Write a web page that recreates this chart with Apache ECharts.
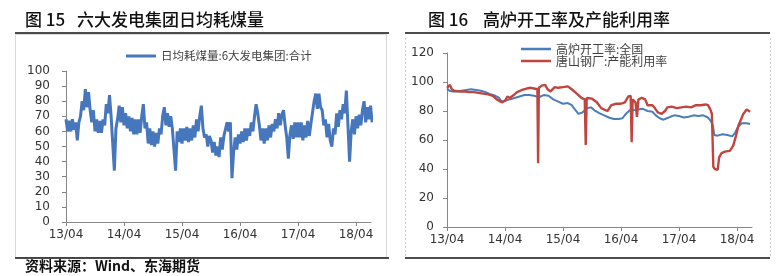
<!DOCTYPE html>
<html><head><meta charset="utf-8">
<script src="https://cdn.jsdelivr.net/npm/echarts@6/dist/echarts.min.js"></script>
<style>html,body{margin:0;padding:0;background:#fff}#c{width:782px;height:276px}</style>
</head><body><div id="c"></div>
<script>
// ---- data ----
// x positions are months since 2013-04
const TICK_MONTHS = [0, 12, 24, 36, 48, 60];
const TICK_LABELS = ['13/04', '14/04', '15/04', '16/04', '17/04', '18/04'];
const LEFT_NAME = '日均耗煤量:6大发电集团:合计';
const LEFT_STEP = 1 / 3; // sampling interval in months
const LEFT_VALUES = [
  68,60,67, 60,68,61, 66,54,66, 70,80,74, 88,76,86, 74,66,74, 60,68,59, 67,59,68, 64,78,72, 84,70,52,
  34,62,68, 77,66,76, 64,72,62, 70,60,69, 58,68,58, 68,59,70, 78,62,66, 52,62,51, 60,50,59, 52,62,58,
  70,76,64, 72,63,70, 62,48,34, 60,53,62, 52,62,54, 63,53,62, 54,64,56, 68,60,70, 77,62,56, 58,50,57,
  54,46,53, 44,50,43, 56,48,57, 58,66,60, 66,29,46, 56,48,58, 52,60,53, 62,54,62, 57,66,60, 70,78,72,
  64,54,62, 52,62,54, 64,56,65, 60,68,62, 72,64,71, 74,64,56, 42,58,64, 55,66,56, 66,56,66, 54,64,56,
  67,57,65, 66,80,85, 75,85,76, 74,64,68, 56,65,54, 50,62,58, 72,63,74, 68,78,72, 87,64,40, 60,68,58,
  70,62,71, 64,74,80, 66,76,68, 77,66
];
const BLUE_NAME = '高炉开工率:全国';
const BLUE_MONTHS = [0,0.5,1.2,2,3,4,5,6,7,8,9,10,10.8,11.3,12,13,14,15,16,17,18,19,20,21,22,23,24,25,25.8,26.5,27.2,28,29,29.8,30.5,31.5,32.5,33.5,34.5,35.5,36.3,37,37.8,38.5,39.5,40.5,41.5,42.5,43.2,44,44.8,45.5,46.2,47,48,49,50,51,52,53,54,54.6,55,55.3,56,57,58,59,59.6,60.2,61,62,62.7];
const BLUE_VALUES = [95.5,94,93.5,93.5,94,94.5,95,94.5,94,93,91.5,90.5,89,86.5,87,88,89,90,91,91,90.5,89.5,91,90.5,88,86.5,85,85.5,84,81,78,79,82,82.5,80.5,78.5,77,75.5,74.5,74.5,75,78,80.5,80.5,81,81.5,80,79.5,77,75,74,75,76,77,76.5,75.5,76,77,76.5,77,75.5,73,70,63.5,63,64,63.5,62.5,65,69,71.5,71.5,71];
const RED_NAME = '唐山钢厂:产能利用率';
const RED_MONTHS = [0,0.3,0.6,1,1.5,2.5,3.5,4.5,5.5,6.5,7.5,8.5,9.5,10.3,11.3,12,12.5,13,13.8,14.5,15.5,16.5,17.3,18,18.7,18.85,19,19.6,20.3,20.8,21.4,22.3,23,24,25,25.8,26.5,27.2,27.8,28.5,28.7,28.9,29.3,30,31,31.9,32.5,33.2,34,35,36,36.8,37.5,38,38.2,38.4,39,39.3,39.6,40.3,41,41.5,42.5,43,43.6,44.4,45.1,45.6,46.5,47.5,48.5,49.5,50.5,51.5,52.5,53.5,54,54.5,54.8,55.1,55.4,56,56.3,56.8,57.5,58.5,58.9,59.2,59.8,60.3,60.8,61.3,62,62.4,62.7];
const RED_VALUES = [96,96.5,98,95,94,93.5,93.5,93,93,92.5,92,91.5,90.5,88,86,87,90,89,91,93,94.5,95.5,96,95.5,95,44,96,97.5,98,95,93.5,96.5,96,96.5,97,95,93,91,89,88,56.6,89,90,88.5,86,82,81,80,84,85,85,86,90,90.5,58.5,88,86,76,88,89,88,84,84,82,79,78,80,82.5,83,82,82.5,83,82.5,84,84,84.5,84,81,78,41.5,40,39.5,48,51,52,52.5,53,56,63,70,74,78,81,80.5,79.5];

// ---- build ----
const zip = (xs, ys) => xs.map((x, i) => [x, ys[i]]);
const leftData = LEFT_VALUES.map((v, i) => [i * LEFT_STEP, v]);
const fmt = v => { const i = TICK_MONTHS.indexOf(v); return i >= 0 ? TICK_LABELS[i] : ''; };
const AX = '#868686', TXT = '#333333', FONT = 'DejaVu Sans';
function xAx(g) {
  return { type: 'value', gridIndex: g, min: 0, max: 63.1,
    axisLine: { show: true, lineStyle: { color: AX, width: 1 } },
    axisTick: { show: true, customValues: TICK_MONTHS, length: 4, lineStyle: { color: AX } },
    axisLabel: { customValues: TICK_MONTHS, formatter: fmt, fontFamily: FONT, fontSize: 12, color: TXT, margin: 7 },
    splitLine: { show: false } };
}
function yAx(g, max, interval, margin) {
  return { type: 'value', gridIndex: g, min: 0, max: max, interval: interval,
    axisLine: { show: true, lineStyle: { color: AX, width: 1 } },
    axisTick: { show: true, length: 4, lineStyle: { color: AX } },
    axisLabel: { fontFamily: FONT, fontSize: 12, color: TXT, margin: margin },
    splitLine: { show: false } };
}
const CJK = 'Noto Sans CJK SC';
const chart = echarts.init(document.getElementById('c'), null, { renderer: 'canvas' });
chart.setOption({
  animation: false,
  backgroundColor: '#fff',
  grid: [
    { left: 66, right: 411, top: 71, bottom: 54 },
    { left: 447, right: 30, top: 53, bottom: 49 }
  ],
  xAxis: [xAx(0), xAx(1)],
  yAxis: [yAx(0, 100, 10, 16), yAx(1, 120, 20, 13)],
  legend: [
    { data: [LEFT_NAME], left: 121, top: 44, icon: 'rect', itemWidth: 30, itemHeight: 3, itemGap: 0,
      textStyle: { fontFamily: CJK, fontSize: 11.5, color: '#404040', lineHeight: 14 } },
    { data: [BLUE_NAME, RED_NAME], orient: 'vertical', left: 516, top: 38, icon: 'rect', itemWidth: 30, itemHeight: 2.5, itemGap: 0,
      textStyle: { fontFamily: CJK, fontSize: 12, color: '#404040', lineHeight: 12 } }
  ],
  series: [
    { name: LEFT_NAME, type: 'line', xAxisIndex: 0, yAxisIndex: 0, data: leftData, symbol: 'none',
      lineStyle: { color: '#4677BD', width: 3 }, itemStyle: { color: '#4677BD' } },
    { name: BLUE_NAME, type: 'line', xAxisIndex: 1, yAxisIndex: 1, data: zip(BLUE_MONTHS, BLUE_VALUES), symbol: 'none',
      lineStyle: { color: '#4A7EBB', width: 2 }, itemStyle: { color: '#4A7EBB' } },
    { name: RED_NAME, type: 'line', xAxisIndex: 1, yAxisIndex: 1, data: zip(RED_MONTHS, RED_VALUES), symbol: 'none',
      lineStyle: { color: '#C0453F', width: 2.4 }, itemStyle: { color: '#C0453F' } }
  ],
  graphic: [
    // frames
    { type: 'rect', shape: { x: 15.5, y: 34.5, width: 371, height: 223 }, style: { fill: 'none', stroke: '#d9d9d9', lineWidth: 1 }, silent: true },
    { type: 'line', shape: { x1: 405.5, y1: 38, x2: 405.5, y2: 257 }, style: { stroke: '#cfcfcf', lineWidth: 1, lineDash: [2, 2] }, silent: true },
    { type: 'line', shape: { x1: 770.5, y1: 38, x2: 770.5, y2: 257 }, style: { stroke: '#cfcfcf', lineWidth: 1, lineDash: [2, 2] }, silent: true },
    // rules
    { type: 'line', shape: { x1: 15, y1: 33, x2: 389, y2: 33 }, style: { stroke: '#111', lineWidth: 1.5 }, silent: true },
    { type: 'line', shape: { x1: 15, y1: 258, x2: 389, y2: 258 }, style: { stroke: '#111', lineWidth: 1.5 }, silent: true },
    { type: 'line', shape: { x1: 405, y1: 33, x2: 770, y2: 33 }, style: { stroke: '#111', lineWidth: 1.5 }, silent: true },
    { type: 'line', shape: { x1: 405, y1: 258, x2: 770, y2: 258 }, style: { stroke: '#111', lineWidth: 1.5 }, silent: true },
    // titles
    { type: 'text', left: 25, top: 11, style: { text: '图 15', font: '500 17px "Noto Sans CJK SC"', fill: '#111' } },
    { type: 'text', left: 77, top: 11, style: { text: '六大发电集团日均耗煤量', font: '500 17px "Noto Sans CJK SC"', fill: '#111' } },
    { type: 'text', left: 428, top: 11, style: { text: '图 16', font: '500 17px "Noto Sans CJK SC"', fill: '#111' } },
    { type: 'text', left: 483, top: 11, style: { text: '高炉开工率及产能利用率', font: '500 17px "Noto Sans CJK SC"', fill: '#111' } },
    // source
    { type: 'text', left: 25, top: 259, style: { text: '资料来源：Wind、东海期货', font: 'bold 14px "Noto Sans CJK SC"', fill: '#111' } }
  ]
});
</script></body></html>
